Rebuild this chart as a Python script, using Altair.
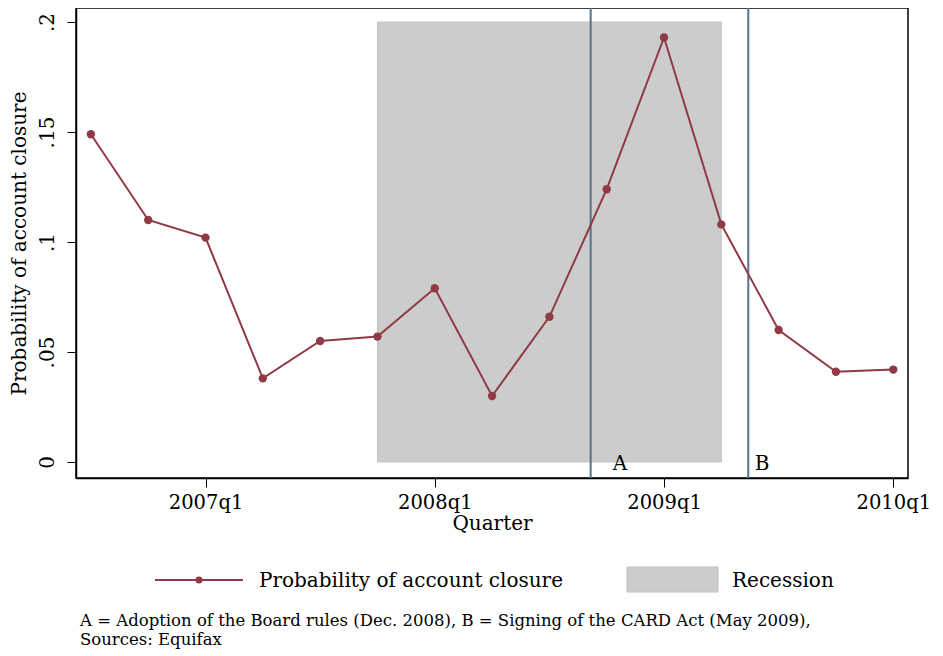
import altair as alt
import pandas as pd

# ---- data ----
quarters = ["2006q3", "2006q4", "2007q1", "2007q2", "2007q3", "2007q4", "2008q1",
            "2008q2", "2008q3", "2008q4", "2009q1", "2009q2", "2009q3", "2009q4", "2010q1"]
prob_closure = [0.149, 0.110, 0.102, 0.038, 0.055, 0.057, 0.079,
                0.030, 0.066, 0.124, 0.193, 0.108, 0.060, 0.041, 0.042]
recession_start = 5      # 2007q4
recession_end = 11       # 2009q2
recession_top = 0.2
event_labels = ["A", "B"]
event_pos = [8.72, 11.47]
event_label_pos = [9.23, 11.71]
tick_idx = [2, 6, 10, 14]
y_ticks = [0, 0.05, 0.1, 0.15, 0.2]

FONT = "DejaVu Serif"
FS = 20
LINE_COLOR = "#8f3a44"
VLINE_COLOR = "#54738d"
W, H = 832, 470
PADL = 68

df = pd.DataFrame({"idx": list(range(len(quarters))), "quarter": quarters, "p": prob_closure})
rec = pd.DataFrame({"x": [recession_start], "x2": [recession_end], "y": [0.0], "y2": [recession_top]})
ev = pd.DataFrame({"pos": event_pos, "lpos": event_label_pos, "lab": event_labels, "y": [0.0, 0.0]})
one = pd.DataFrame({"d": [0]})

xscale = alt.Scale(domain=[-0.26, 14.257], nice=False, zero=False)
yscale = alt.Scale(domain=[-0.0073, 0.2064], nice=False, zero=False)

label_arr = "[" + ",".join("'" + q + "'" for q in quarters) + "]"

xaxis = alt.Axis(values=tick_idx, labelExpr=label_arr + "[datum.value]",
                 title="Quarter", grid=False, tickSize=9, labelPadding=6,
                 titlePadding=2, domainColor="black", tickColor="black", domainWidth=1.5,
                 labelFontSize=19.5, titleFontSize=FS, labelFont=FONT, titleFont=FONT,
                 titleFontWeight="normal", labelColor="black", titleColor="black")
yaxis = alt.Axis(values=y_ticks,
                 labelExpr="datum.value == 0 ? '0' : replace(format(datum.value, '.2~f'), '0.', '.')",
                 title="Probability of account closure", grid=False, tickSize=9,
                 labelAngle=-90, labelAlign="center", labelBaseline="bottom",
                 labelPadding=10, titlePadding=8, domainColor="black", tickColor="black", domainWidth=1.5,
                 labelFontSize=FS, titleFontSize=FS, labelFont=FONT, titleFont=FONT,
                 titleFontWeight="normal", labelColor="black", titleColor="black")

rect = alt.Chart(rec).mark_rect(color="#cccccc", stroke="#c2c2c2", strokeWidth=1).encode(
    x=alt.X("x:Q", scale=xscale, axis=xaxis),
    x2="x2:Q",
    y=alt.Y("y:Q", scale=yscale, axis=yaxis),
    y2="y2:Q",
)

vlines = alt.Chart(ev).mark_rule(color=VLINE_COLOR, strokeWidth=2).encode(
    x=alt.X("pos:Q", scale=xscale, axis=xaxis),
)

evtext = alt.Chart(ev).mark_text(font=FONT, fontSize=FS, color="black", baseline="middle", dy=2).encode(
    x=alt.X("lpos:Q", scale=xscale, axis=xaxis),
    y=alt.Y("y:Q", scale=yscale, axis=yaxis),
    text="lab:N",
)

line = alt.Chart(df).mark_line(color=LINE_COLOR, strokeWidth=2).encode(
    x=alt.X("idx:Q", scale=xscale, axis=xaxis),
    y=alt.Y("p:Q", scale=yscale, axis=yaxis),
)
pts = alt.Chart(df).mark_point(color=LINE_COLOR, filled=True, size=70, opacity=1).encode(
    x=alt.X("idx:Q", scale=xscale, axis=xaxis),
    y=alt.Y("p:Q", scale=yscale, axis=yaxis),
)

# ---- manual legend (below plot) ----
off = 78 - (8 + PADL)
leg_line = alt.Chart(one).mark_rule(color=LINE_COLOR, strokeWidth=2).encode(
    x=alt.value(77 + off), x2=alt.value(165 + off), y=alt.value(572))
leg_pt = alt.Chart(one).mark_point(color=LINE_COLOR, filled=True, size=50, opacity=1).encode(
    x=alt.value(121 + off), y=alt.value(572))
leg_t1 = alt.Chart(one).mark_text(font=FONT, fontSize=FS, align="left", baseline="middle", color="black").encode(
    x=alt.value(181 + off), y=alt.value(573), text=alt.value("Probability of account closure"))
leg_rect = alt.Chart(one).mark_rect(color="#cccccc", stroke="#c2c2c2", strokeWidth=1).encode(
    x=alt.value(549 + off), x2=alt.value(640 + off), y=alt.value(559), y2=alt.value(584))
leg_t2 = alt.Chart(one).mark_text(font=FONT, fontSize=FS, align="left", baseline="middle", color="black").encode(
    x=alt.value(654 + off), y=alt.value(573), text=alt.value("Recession"))

note1 = alt.Chart(one).mark_text(font=FONT, fontSize=16.5, align="left", baseline="middle", color="black").encode(
    x=alt.value(2 + off), y=alt.value(613),
    text=alt.value("A = Adoption of the Board rules (Dec. 2008), B = Signing of the CARD Act (May 2009),"))
note2 = alt.Chart(one).mark_text(font=FONT, fontSize=16.5, align="left", baseline="middle", color="black").encode(
    x=alt.value(2 + off), y=alt.value(632), text=alt.value("Sources: Equifax"))

chart = alt.layer(rect, vlines, evtext, line, pts,
                  leg_line, leg_pt, leg_t1, leg_rect, leg_t2, note1, note2).properties(
    width=W, height=H,
    autosize=alt.AutoSizeParams(type="none"),
    padding={"left": PADL, "top": 0, "right": 927 - PADL - W, "bottom": 176},
).configure(font=FONT, background="white").configure_view(stroke="black", strokeWidth=1.5)

chart.save("out.html", embed_options={"renderer": "svg", "actions": False})
